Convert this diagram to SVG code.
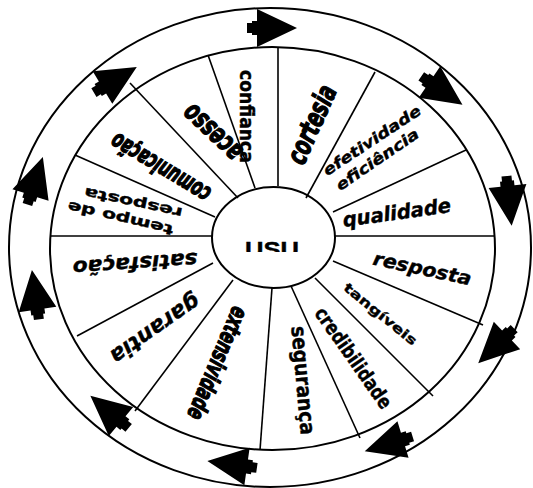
<svg xmlns="http://www.w3.org/2000/svg" xmlns:xlink="http://www.w3.org/1999/xlink" width="533" height="488" viewBox="0 0 533 488">
<style>
.ring{fill:none;stroke:#000;stroke-width:2}
.spoke{stroke:#000;stroke-width:1.6}
.arr{fill:#000}
.t{font-family:"DejaVu Sans","Liberation Sans",sans-serif;font-weight:bold;fill:#000;text-anchor:middle;stroke:#000;stroke-width:0.4}
.i{font-style:italic}
.c{font-family:"DejaVu Sans Condensed","Liberation Sans Narrow","Liberation Sans",sans-serif;font-stretch:condensed;font-style:italic;stroke-width:1.3}
</style>
<defs>
<path id="a" d="M0,-19 L40,0 L0,19 L0,7 L-5,7 L-5,5 L-10,5 L-10,-5 L-5,-5 L-5,-7 L0,-7 Z"/>
<clipPath id="usuclip"><rect x="230" y="230" width="80" height="22"/></clipPath>
</defs>
<rect width="533" height="488" fill="#fff"/>
<g id="rings">
<ellipse class="ring" cx="270" cy="247.5" rx="261" ry="239.5"/>
<ellipse class="ring" cx="272.5" cy="248.5" rx="222.5" ry="201.5"/>
</g>
<g id="connectors">
<line class="spoke" x1="278" y1="47" x2="278" y2="186"/>
<line class="spoke" x1="208" y1="55" x2="255" y2="188"/>
<line class="spoke" x1="130" y1="83" x2="238" y2="198"/>
<line class="spoke" x1="75" y1="155" x2="215" y2="217"/>
<line class="spoke" x1="50" y1="236" x2="212" y2="236"/>
<line class="spoke" x1="77" y1="336" x2="213" y2="263"/>
<line class="spoke" x1="135" y1="411" x2="233" y2="280"/>
<line class="spoke" x1="260" y1="450" x2="272" y2="288"/>
<line class="spoke" x1="291" y1="286" x2="360" y2="438"/>
<line class="spoke" x1="315" y1="278" x2="433" y2="396"/>
<line class="spoke" x1="333" y1="261" x2="483" y2="325"/>
<line class="spoke" x1="335" y1="236" x2="495" y2="236"/>
<line class="spoke" x1="333" y1="212" x2="466" y2="150"/>
<line class="spoke" x1="306" y1="198" x2="375" y2="72"/>
</g>
<g id="arrows">
<use href="#a" class="arr" transform="translate(257,28) rotate(0)"/>
<use href="#a" class="arr" transform="translate(429.5,82) rotate(34.5)"/>
<use href="#a" class="arr" transform="translate(507.5,186) rotate(84)"/>
<use href="#a" class="arr" transform="translate(507,335.5) rotate(136)"/>
<use href="#a" class="arr" transform="translate(403,439.5) rotate(163)"/>
<use href="#a" class="arr" transform="translate(247,466.5) rotate(188)"/>
<use href="#a" class="arr" transform="translate(121,421.5) rotate(220)"/>
<use href="#a" class="arr" transform="translate(37.5,309.5) rotate(262)"/>
<use href="#a" class="arr" transform="translate(30.5,195) rotate(288)"/>
<use href="#a" class="arr" transform="translate(102.5,87.5) rotate(329)"/>
</g>
<g id="center">
<ellipse class="ring" cx="273.5" cy="237.5" rx="61.5" ry="50.5" fill="#fff"/>
<text class="t" x="272" y="257" font-size="22" textLength="54" lengthAdjust="spacingAndGlyphs" clip-path="url(#usuclip)" style="font-family:'Liberation Sans',sans-serif">USU</text>
</g>
<g id="confianca"><text class="t" transform="translate(245,116.5) rotate(90)" y="5" font-size="19" textLength="93" lengthAdjust="spacingAndGlyphs">confiança</text></g>
<g id="acesso"><text class="t c" transform="translate(213,132) rotate(223)" y="8" font-size="28" textLength="70" lengthAdjust="spacingAndGlyphs">acesso</text></g>
<g id="comunicacao"><text class="t c" transform="translate(161,167) rotate(211)" y="7" font-size="24" textLength="112" lengthAdjust="spacingAndGlyphs">comunicação</text></g>
<g id="tempo-de-resposta">
<text class="t" transform="translate(120.5,217.5) rotate(193)" y="4" font-size="14" textLength="108" lengthAdjust="spacingAndGlyphs">tempo de</text>
<text class="t" transform="translate(133.5,202) rotate(192)" y="4" font-size="14" textLength="100" lengthAdjust="spacingAndGlyphs">resposta</text>
</g>
<g id="satisfacao"><text class="t i" transform="translate(135,262) rotate(176)" y="5" font-size="20" textLength="125" lengthAdjust="spacingAndGlyphs">satisfação</text></g>
<g id="garantia"><text class="t i" transform="translate(154.5,328) rotate(145)" y="6" font-size="22" textLength="104" lengthAdjust="spacingAndGlyphs">garantia</text></g>
<g id="extensividade"><text class="t c" transform="translate(216.5,363) rotate(113)" y="7" font-size="24" textLength="120" lengthAdjust="spacingAndGlyphs">extensividade</text></g>
<g id="seguranca"><text class="t" transform="translate(301,380.5) rotate(85)" y="5" font-size="21" textLength="109" lengthAdjust="spacingAndGlyphs">segurança</text></g>
<g id="credibilidade"><text class="t" transform="translate(352,359) rotate(55)" y="5" font-size="20" textLength="119" lengthAdjust="spacingAndGlyphs">credibilidade</text></g>
<g id="tangiveis"><text class="t" transform="translate(380,314.5) rotate(39)" y="4" font-size="13" textLength="90" lengthAdjust="spacingAndGlyphs">tangíveis</text></g>
<g id="resposta"><text class="t i" transform="translate(422,270) rotate(12)" y="5" font-size="19" textLength="100" lengthAdjust="spacingAndGlyphs">resposta</text></g>
<g id="qualidade"><text class="t i" transform="translate(397,214.5) rotate(-8)" y="5" font-size="20" textLength="109" lengthAdjust="spacingAndGlyphs">qualidade</text></g>
<g id="efetividade-eficiencia">
<text class="t i" transform="translate(372.5,141.5) rotate(-33.5)" y="4" font-size="15" textLength="114" lengthAdjust="spacingAndGlyphs">efetividade</text>
<text class="t i" transform="translate(378,160.5) rotate(-34.5)" y="4" font-size="15" textLength="97" lengthAdjust="spacingAndGlyphs">eficiência</text>
</g>
<g id="cortesia"><text class="t c" transform="translate(313,125) rotate(-66)" y="8" font-size="28" textLength="83" lengthAdjust="spacingAndGlyphs">cortesia</text></g>
</svg>
